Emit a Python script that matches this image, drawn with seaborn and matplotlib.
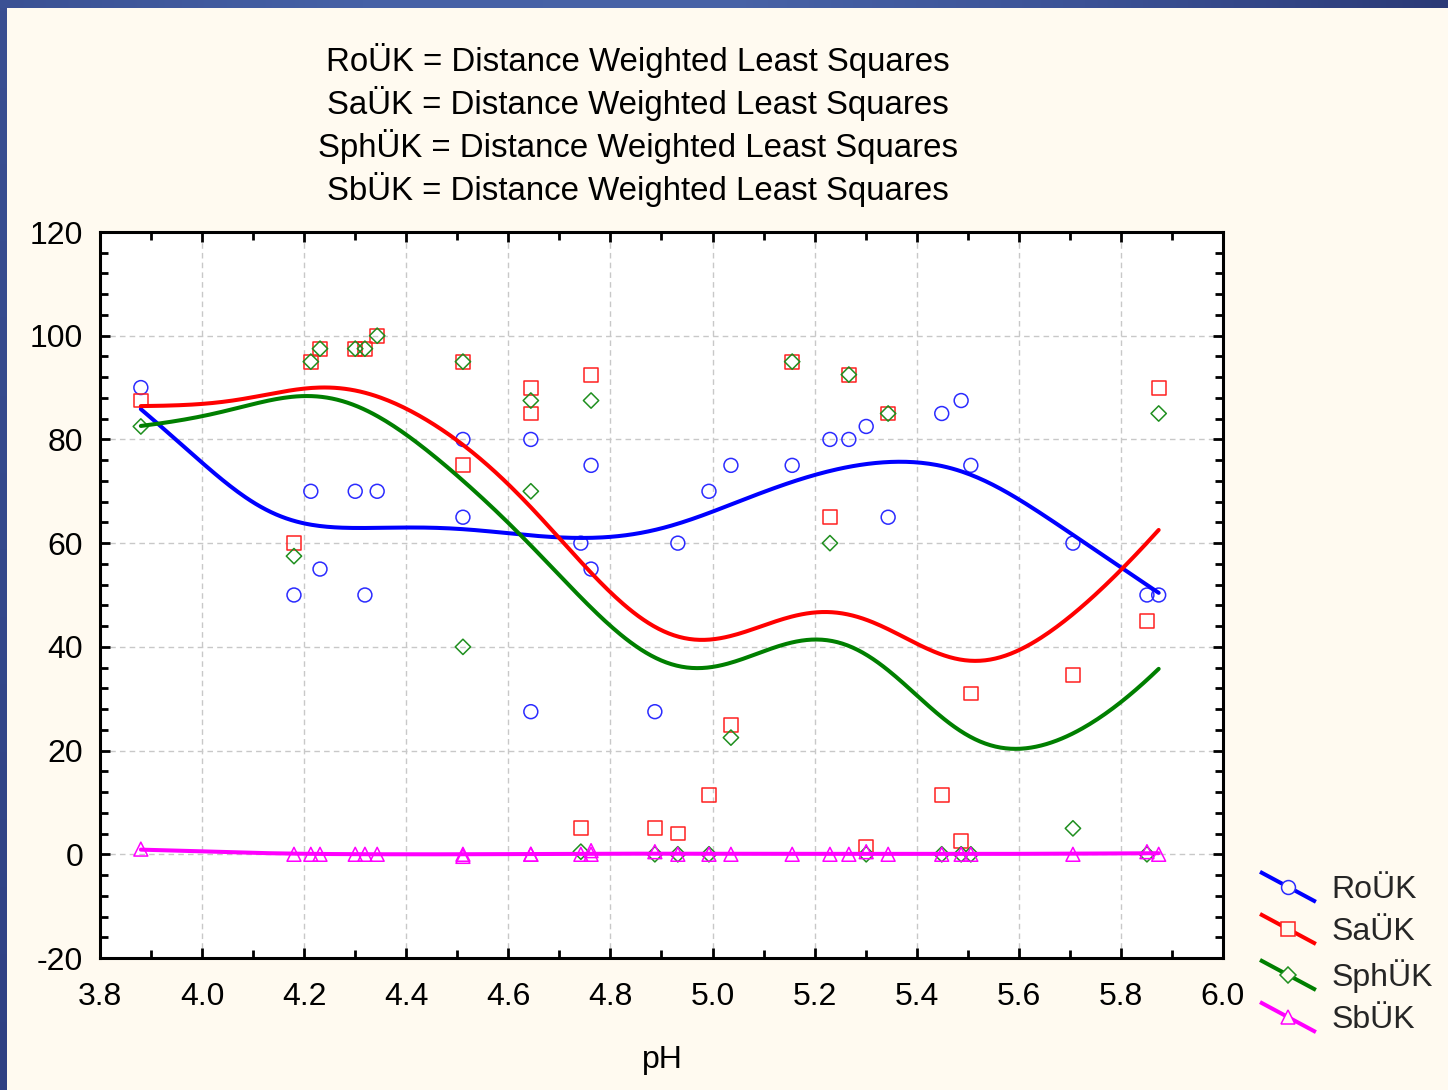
import numpy as np
import matplotlib
matplotlib.use("Agg")
import matplotlib.pyplot as plt
import seaborn as sns
from matplotlib.lines import Line2D
from matplotlib.legend_handler import HandlerLine2D
from matplotlib.colors import LinearSegmentedColormap

# ---- data -------------------------------------------------------------
ph = [3.880, 4.180, 4.213, 4.231, 4.300, 4.319, 4.343, 4.511, 4.511, 4.644, 4.644,
      4.742, 4.762, 4.762, 4.887, 4.932, 4.993, 5.036, 5.156, 5.230, 5.267, 5.301,
      5.344, 5.449, 5.487, 5.506, 5.706, 5.851, 5.874]
ro_uk = [90, 50, 70, 55, 70, 50, 70, 80, 65, 80, 27.5, 60, 75, 55, 27.5, 60, 70, 75, 75,
         80, 80, 82.5, 65, 85, 87.5, 75, 60, 50, 50]
sa_uk = [87.5, 60, 95, 97.5, 97.5, 97.5, 100, 95, 75, 90, 85, 5, 92.5, np.nan, 5, 4, 11.5,
         25, 95, 65, 92.5, 1.5, 85, 11.5, 2.5, 31, 34.5, 45, 90]
sph_uk = [82.5, 57.5, 95, 97.5, 97.5, 97.5, 100, 95, 40, 87.5, 70, 0.5, 87.5, np.nan, 0, 0,
          0, 22.5, 95, 60, 92.5, 0, 85, 0, 0, 0, 5, 0, 85]
sb_uk = [1.0, 0, 0, 0, 0, 0, 0, 0, -0.4, 0, 0, 0, 0.7, 0, 0.5, 0, 0, 0, 0,
         0, 0, 0.5, 0, 0, 0, 0, 0, 0.5, 0]

series_names = ["RoÜK", "SaÜK", "SphÜK", "SbÜK"]
method_name = "Distance Weighted Least Squares"
x_ticks = [3.8, 4.0, 4.2, 4.4, 4.6, 4.8, 5.0, 5.2, 5.4, 5.6, 5.8, 6.0]
y_ticks = [-20, 0, 20, 40, 60, 80, 100, 120]

# ---- styles -------------------------------------------------------------
colors = ["#0000FF", "#FF0000", "#007F00", "#FF00FF"]
point_colors = ["#2B2BFF", "#FF2020", "#1F8F1F", "#FF00FF"]
markers = ["o", "s", "D", "^"]
marker_sizes = [10, 10, 7.8, 10]
BG = "#FFFAF0"
W, H = 1448, 1090


def dwls(x, y, grid, h=0.5, eps=0.1):
    """Distance weighted least squares: a local linear fit at every grid
    value, weights decaying with distance from that value."""
    x = np.asarray(x, float)
    y = np.asarray(y, float)
    keep = ~np.isnan(y)
    x, y = x[keep], y[keep]
    out = np.empty(len(grid))
    for i, x0 in enumerate(grid):
        d = x - x0
        w = np.exp(-(d / h) ** 2) / (d ** 2 + eps)
        A = np.vstack([d, np.ones_like(d)]).T
        s = np.sqrt(w)
        coef, *_ = np.linalg.lstsq(A * s[:, None], y * s, rcond=None)
        out[i] = coef[-1]
    return out


class SlantHandler(HandlerLine2D):
    """Legend key drawn as a descending diagonal stroke with the marker centred."""

    def create_artists(self, legend, orig_handle, xdescent, ydescent,
                       width, height, fontsize, trans):
        cy = (height - ydescent) / 2
        dy = 0.47 * fontsize
        x0, x1 = -xdescent, -xdescent + width
        seg = Line2D([x0, x1], [cy + dy, cy - dy], color=orig_handle.get_color(),
                     lw=orig_handle.get_linewidth(), solid_capstyle="butt")
        mk = Line2D([(x0 + x1) / 2], [cy], ls="none", marker=orig_handle.get_marker(),
                    ms=orig_handle.get_markersize(), mfc=BG,
                    mec=orig_handle.get_markeredgecolor(),
                    mew=orig_handle.get_markeredgewidth())
        seg.set_transform(trans)
        mk.set_transform(trans)
        return [seg, mk]


sns.set_theme(style="white")
plt.rcParams["font.family"] = ["Liberation Sans", "DejaVu Sans"]

fig = plt.figure(figsize=(W / 100, H / 100), dpi=100, facecolor=BG)

# framing bars along the top and left edges
top_cmap = LinearSegmentedColormap.from_list(
    "topbar", ["#3B5194", "#4661A6", "#4863A7", "#3C5296", "#2B3A77"])
left_cmap = LinearSegmentedColormap.from_list(
    "leftbar", ["#3A4F92", "#34488B", "#2F4083"])
bar_top = fig.add_axes([0, 1 - 8 / H, 1, 8 / H])
bar_top.imshow(np.linspace(0, 1, 512)[None, :], aspect="auto", cmap=top_cmap)
bar_top.set_axis_off()
bar_left = fig.add_axes([0, 0, 7 / W, 1 - 8 / H])
bar_left.imshow(np.linspace(0, 1, 512)[:, None], aspect="auto", cmap=left_cmap)
bar_left.set_axis_off()

ax = fig.add_axes([100 / W, 1 - 958 / H, 1123 / W, 726 / H])
ax.set_facecolor("white")

all_series = [ro_uk, sa_uk, sph_uk, sb_uk]
grid = np.linspace(min(ph), max(ph), 400)

for vals, pc, mk, ms in zip(all_series, point_colors, markers, marker_sizes):
    sns.scatterplot(x=ph, y=vals, ax=ax, marker=mk, s=ms ** 2, facecolor="none",
                    edgecolor=pc, linewidth=1.1, legend=False, zorder=3)

for vals, c in zip(all_series, colors):
    fit = dwls(ph, vals, grid)
    sns.lineplot(x=grid, y=fit, ax=ax, color=c, lw=2.9, estimator=None, sort=False,
                 legend=False, zorder=4)

ax.set_xlim(3.8, 6.0)
ax.set_ylim(-20, 120)
ax.set_xticks(x_ticks)
ax.set_xticklabels([f"{v:.1f}" for v in x_ticks])
ax.set_yticks(y_ticks)
ax.set_yticklabels([str(v) for v in y_ticks])
ax.set_xticks(np.arange(3.8, 6.01, 0.1), minor=True)
ax.set_yticks(np.arange(-20, 121, 4), minor=True)
ax.tick_params(which="both", direction="in", color="black", width=2.0,
               top=True, right=True, bottom=True, left=True,
               labeltop=False, labelright=False)
ax.tick_params(which="major", length=7, labelsize=23, labelcolor="black")
ax.tick_params(which="minor", length=6)
ax.tick_params(axis="x", which="major", pad=17)
ax.tick_params(axis="y", which="major", pad=12)
ax.grid(True, which="major", color="#C8C8C8", ls=(0, (4, 3)), lw=1.0)
ax.set_axisbelow(True)
for sp in ax.spines.values():
    sp.set_visible(True)
    sp.set_color("black")
    sp.set_linewidth(2.2)

ax.set_xlabel("pH", fontsize=23, color="black")
ax.set_ylabel("")
ax.xaxis.set_label_coords((662 - 100) / 1123, (958 - 1060) / 726)
ax.xaxis.label.set_va("center")

# method description lines above the plot
for i, name in enumerate(series_names):
    yc = 61 + i * 42.7
    fig.text(638 / W, 1 - yc / H, f"{name} = {method_name}", ha="center", va="center",
             fontsize=23.8, color="black")

handles = [Line2D([], [], color=c, lw=2.9, marker=mk, ms=ms, mec=pc, mew=1.1)
           for c, pc, mk, ms in zip(colors, point_colors, markers, marker_sizes)]
fig.legend(handles, series_names, handler_map={Line2D: SlantHandler()},
           loc="upper left", bbox_to_anchor=(1260 / W, 1 - 875 / H),
           frameon=False, fontsize=23, handlelength=1.75, handletextpad=0.5,
           labelspacing=0.38, borderpad=0, borderaxespad=0)

fig.savefig("out.png", dpi=100, facecolor=fig.get_facecolor())
